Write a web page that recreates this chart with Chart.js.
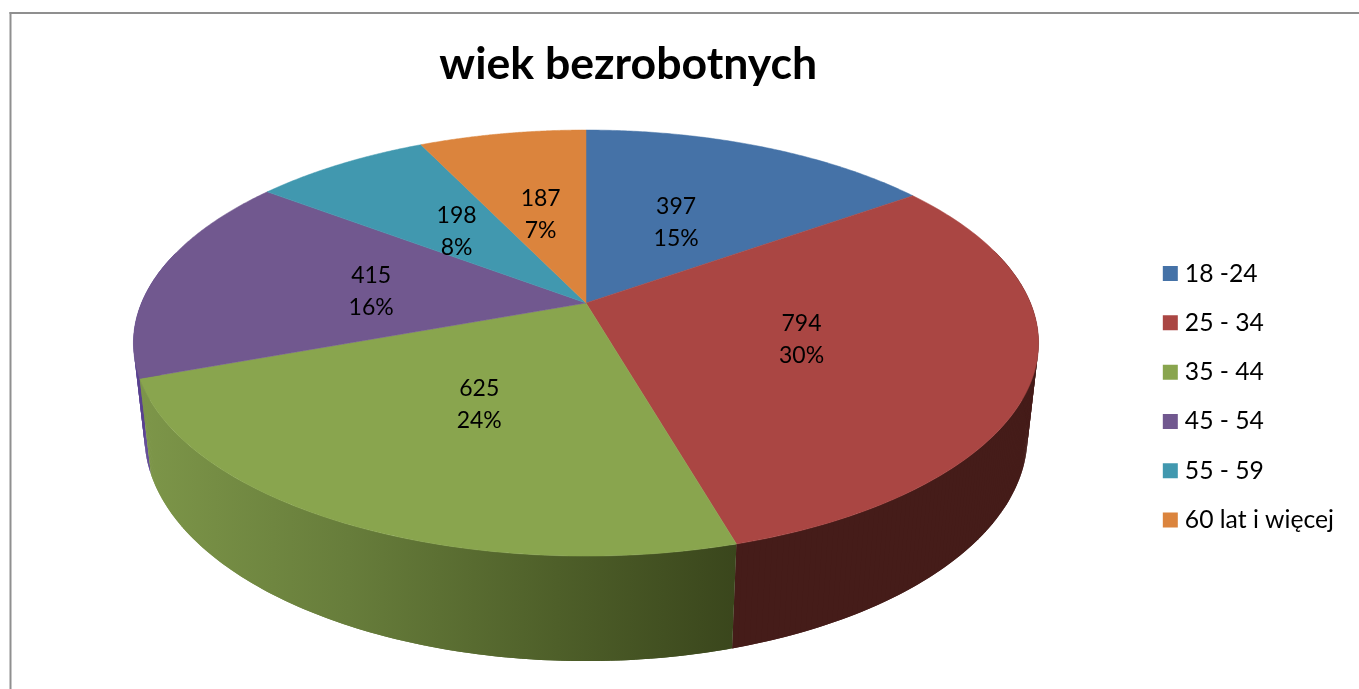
<!DOCTYPE html>
<html lang="pl">
<head>
<meta charset="utf-8">
<title>wiek bezrobotnych</title>
<script src="https://cdn.jsdelivr.net/npm/chart.js@4"></script>
<style>
html,body{margin:0;padding:0;background:#fff;overflow:hidden}
#wrap{width:1359px;height:689px;position:relative}
</style>
</head>
<body>
<div id="wrap"><canvas id="c" width="1359" height="689"></canvas></div>
<script>
const chartTitle = 'wiek bezrobotnych';
const categories = ['18 -24', '25 - 34', '35 - 44', '45 - 54', '55 - 59', '60 lat i więcej'];
const values = [397, 794, 625, 415, 198, 187];
const faceColors = ['#4572a7', '#aa4643', '#89a54e', '#71588f', '#4198af', '#db843d'];

const FONT = 'Lato, Carlito, sans-serif';
// perspective of the top and bottom planes of the pie
const CX = 586, CY = 303;
const TOP = {a: 444.5, b: 205.5, c: 0, p: 0.188};
const BOT = {a: 434, b: 200.8, c: 91.5, p: 0.1837};
const project = (pl, u, v) => {
  const d = 1 - pl.p * v;
  return [CX + pl.a * u / d, CY + (pl.b * v + pl.c) / d];
};
const rim = (pl, ang) => project(pl, Math.cos(ang), Math.sin(ang));

const wallPaint = {
  1: () => '#451c19',
  3: () => '#5a4290',
  2: (ctx) => {
    const g = ctx.createLinearGradient(140, 0, 736, 0);
    g.addColorStop(0, '#7d9649');
    g.addColorStop(0.35, '#677d3b');
    g.addColorStop(0.7, '#4e5f29');
    g.addColorStop(1, '#3a461c');
    return g;
  }
};
const labelNudge = {0: [-4, 4], 1: [-1, 2], 2: [3, 2], 3: [2, 3], 4: [2, 3], 5: [0, 3]};

const pie3d = {
  id: 'pie3d',
  beforeDraw(chart) {
    const ctx = chart.ctx;
    ctx.save();
    ctx.fillStyle = '#fff';
    ctx.fillRect(0, 0, chart.width, chart.height);
    ctx.fillStyle = '#8f8f8f';
    ctx.fillRect(9.5, 12, 2, chart.height - 12);
    ctx.fillRect(9.5, 12, chart.width - 9.5, 2);
    ctx.restore();
  },
  beforeDatasetsDraw(chart) {
    const ctx = chart.ctx;
    const arcs = chart.getDatasetMeta(0).data;
    ctx.save();
    // side wall, back to front; each strip overlaps the next to avoid seams
    [3, 1, 2].forEach((i) => {
      const arc = arcs[i];
      ctx.fillStyle = wallPaint[i](ctx);
      const n = 160;
      const step = (arc.endAngle - arc.startAngle) / n;
      for (let k = n - 1; k >= 0; k--) {
        const a0 = arc.startAngle + step * k;
        const a1 = arc.startAngle + step * Math.min(n, k + 2);
        if (Math.sin(a0) < -0.25 && Math.sin(a1) < -0.25) continue;
        const p = [rim(TOP, a0), rim(TOP, a1), rim(BOT, a1), rim(BOT, a0)];
        ctx.beginPath();
        ctx.moveTo(p[0][0], p[0][1]);
        for (let q = 1; q < 4; q++) ctx.lineTo(p[q][0], p[q][1]);
        ctx.closePath();
        ctx.fill();
      }
    });
    // top face
    arcs.forEach((arc, i) => {
      ctx.fillStyle = faceColors[i];
      ctx.strokeStyle = faceColors[i];
      ctx.lineWidth = 0.5;
      ctx.beginPath();
      ctx.moveTo(CX, CY);
      const n = 120;
      for (let k = 0; k <= n; k++) {
        const p = rim(TOP, arc.startAngle + (arc.endAngle - arc.startAngle) * k / n);
        ctx.lineTo(p[0], p[1]);
      }
      ctx.closePath();
      ctx.fill();
      ctx.stroke();
    });
    // value and percentage labels
    const total = values.reduce((s, x) => s + x, 0);
    ctx.fillStyle = '#000';
    ctx.font = '23px ' + FONT;
    ctx.textAlign = 'center';
    ctx.textBaseline = 'middle';
    arcs.forEach((arc, i) => {
      const mid = (arc.startAngle + arc.endAngle) / 2;
      const p = project(TOP, 0.5 * Math.cos(mid), 0.5 * Math.sin(mid));
      const x = p[0] + labelNudge[i][0], y = p[1] + labelNudge[i][1];
      ctx.fillText(String(values[i]), x, y - 16);
      ctx.fillText(Math.round(values[i] / total * 100) + '%', x, y + 16);
    });
    ctx.restore();
    return false;
  }
};

new Chart(document.getElementById('c'), {
  type: 'pie',
  data: {
    labels: categories,
    datasets: [{data: values, backgroundColor: faceColors, borderWidth: 0}]
  },
  options: {
    responsive: false,
    animation: false,
    layout: {padding: {left: 113, right: 15, top: 38, bottom: 132}},
    plugins: {
      tooltip: {enabled: false},
      title: {
        display: true,
        text: chartTitle,
        fullSize: false,
        color: '#000',
        font: {family: FONT, size: 44.6, weight: 'bold'},
        padding: 0
      },
      legend: {
        position: 'right',
        align: 'end',
        labels: {
          color: '#000',
          font: {family: FONT, size: 24.7},
          usePointStyle: true,
          pointStyle: 'rect',
          boxWidth: 4.3,
          boxHeight: 15,
          padding: 24.6
        }
      }
    }
  },
  plugins: [pie3d]
});
</script>
</body>
</html>
